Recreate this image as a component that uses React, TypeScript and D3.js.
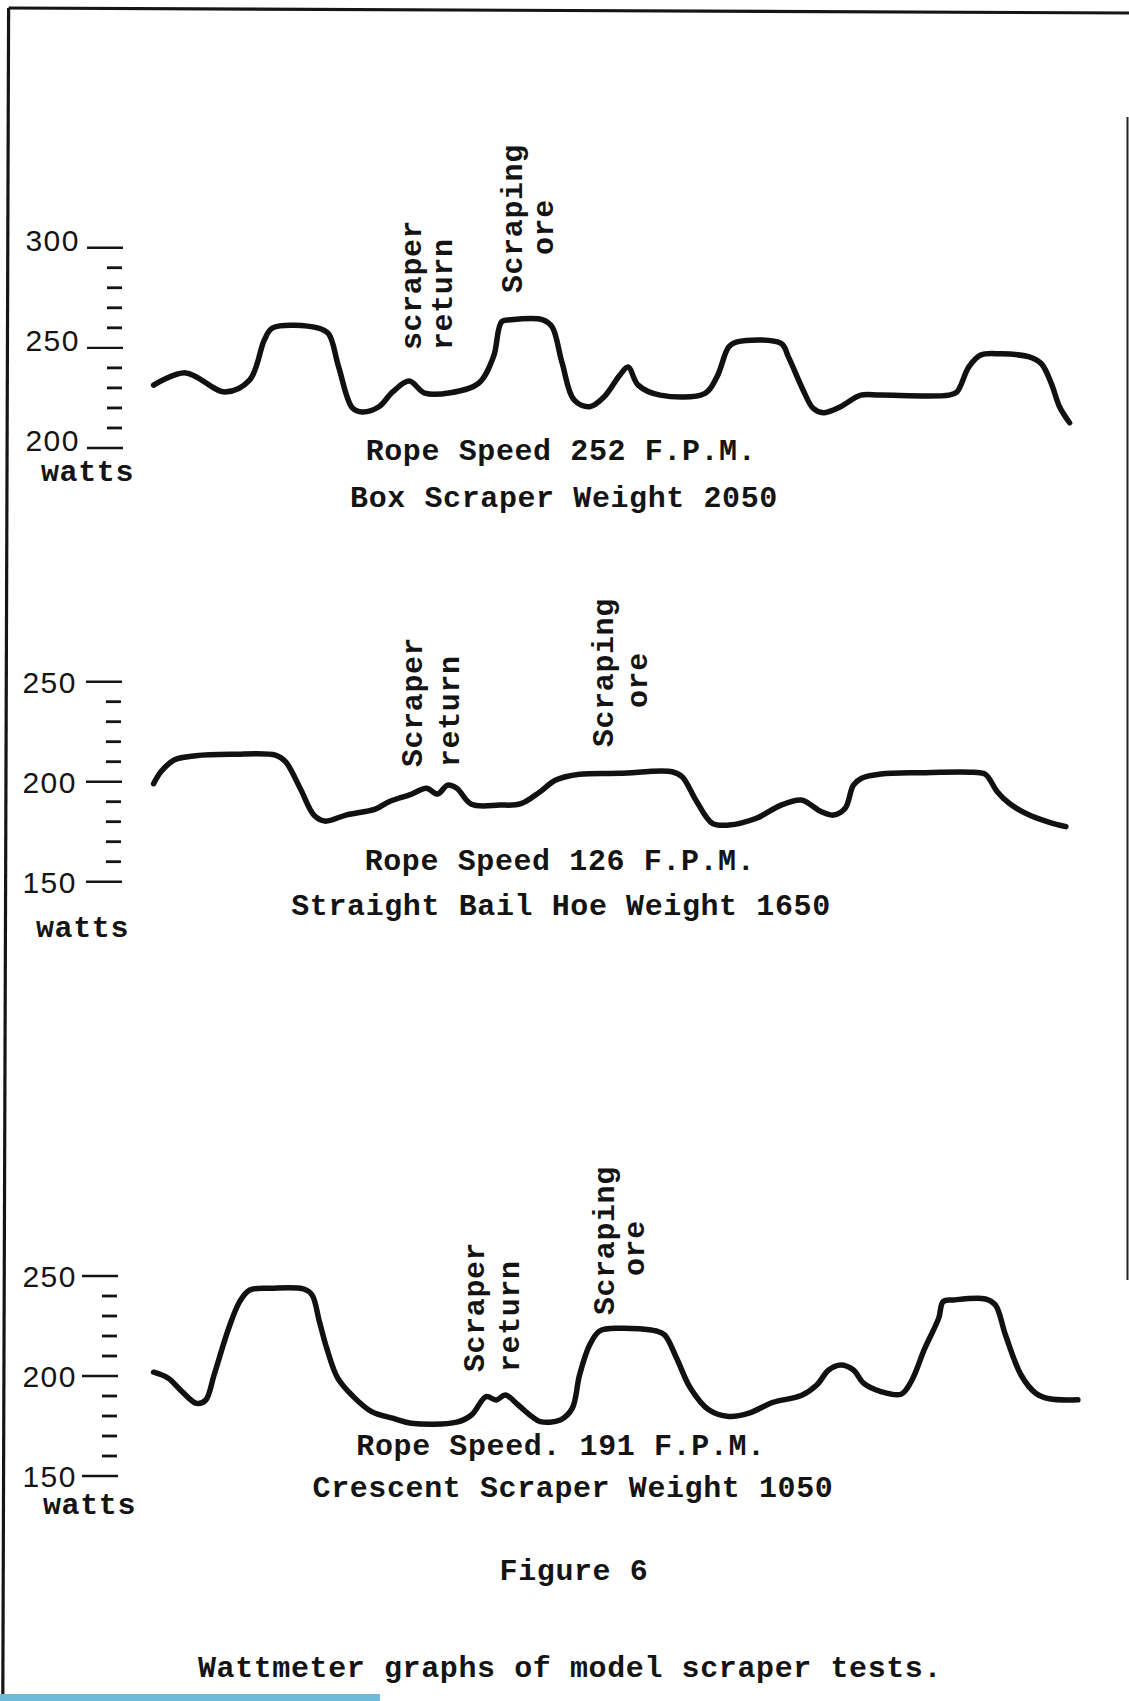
import React from "react";
import * as d3 from "d3";

const W = 1129;
const H = 1701;

// ---- Panel 1: Box Scraper, rope speed 252 F.P.M. (time in % of record, watts)
const p1Time = [0, 3.5, 7.8, 10.5, 12.1, 13.0, 17.9, 19.1, 20.2, 21.7, 22.8, 24.6, 26.1, 27.9, 29.6, 32.4, 35.5, 37.1, 38.0, 39.0, 42.5, 43.5, 44.6, 45.9, 47.6, 49.2, 50.9, 51.8, 52.9, 55.3, 60.2, 61.5, 62.8, 63.7, 68.5, 69.3, 70.9, 72.0, 73.1, 75.0, 77.2, 79.4, 86.8, 87.7, 89.0, 90.3, 92.5, 95.6, 96.9, 98.0, 98.9, 100];
const p1Watts = [231.4, 237.5, 228, 234, 254, 260, 260, 257, 240.5, 220, 218, 220.6, 228, 233.4, 227.4, 227.6, 232.4, 245.5, 263, 264, 264, 260.5, 242.4, 224, 220.6, 225.6, 236.4, 240.4, 231.4, 226.4, 227.3, 235.5, 250.5, 253, 252.2, 245.5, 229, 219.8, 217.6, 220.6, 226.4, 226.4, 226.4, 228, 240.5, 246.4, 247, 245.5, 242.2, 232.3, 220.6, 212.6];

// ---- Panel 2: Straight Bail Hoe, rope speed 126 F.P.M.
const p2Time = [0, 0.8, 2.3, 4.6, 8.6, 13.3, 14.4, 16.0, 17.5, 18.7, 21.0, 24.2, 25.7, 28.1, 29.8, 31.0, 32.1, 33.1, 34.7, 37.8, 40.1, 42.2, 43.9, 46.5, 50.9, 56.6, 57.7, 59.3, 61.0, 62.8, 65.8, 68.5, 70.7, 71.5, 72.9, 74.2, 75.5, 76.4, 77.3, 79.4, 83.8, 89.5, 90.8, 92.1, 93.4, 95.6, 97.8, 99.6];
const p2Watts = [199, 205, 211, 213, 213.7, 213.3, 210, 196.7, 183.3, 180.3, 183.3, 186.3, 190, 193.7, 196.7, 193.8, 198.3, 196.7, 188.7, 188.3, 189, 195, 200.8, 203.7, 204.2, 205, 202.5, 190, 179.2, 178.3, 181.7, 188.3, 190.8, 189.2, 185, 183.3, 186.7, 198.3, 201.7, 203.8, 204.5, 204.7, 203.7, 195, 189.2, 183.3, 179.7, 177.5];

// ---- Panel 3: Crescent Scraper, rope speed 191 F.P.M.
const p3Time = [0, 1.6, 3.1, 4.7, 5.7, 6.6, 8.2, 9.4, 10.5, 12.9, 16.4, 17.3, 18.1, 18.9, 20.1, 21.8, 23.8, 26.1, 28.1, 33.1, 34.7, 36.3, 37.4, 38.4, 39.8, 41.3, 42.2, 44.4, 45.7, 46.5, 47.6, 48.7, 50.9, 54.9, 55.8, 57.1, 58.6, 60.6, 62.8, 65.0, 67.6, 70.7, 72.4, 73.7, 75.0, 76.4, 77.5, 79.4, 81.6, 82.7, 84.2, 85.7, 86.2, 87.3, 90.8, 91.9, 93.0, 94.7, 96.3, 97.8, 100.9];
const p3Watts = [201.9, 198.9, 192.2, 186.3, 188, 200.5, 223.9, 237.2, 243, 243.9, 243.5, 240.5, 227.2, 213.9, 198.9, 189.7, 182.2, 178.9, 176.4, 176.9, 180.5, 189.7, 188, 190.5, 185.5, 179.7, 177.2, 178, 183.8, 200.5, 215.5, 222.5, 223.9, 222.5, 220.5, 208.9, 194, 183.1, 179.8, 181.4, 186.8, 190.2, 195.5, 203, 205.5, 203, 196.4, 192.2, 190.9, 197.2, 213.9, 228.8, 237.2, 238, 238.5, 235.5, 220.5, 200.5, 191.4, 188.6, 188.1];

// ---- Axis domains and text
const p1Domain = [200, 300];
const p2Domain = [150, 250];
const p3Domain = [150, 250];
const unitLabel = "watts";
const p1Titles = ["Rope Speed 252 F.P.M.", "Box Scraper Weight 2050"];
const p2Titles = ["Rope Speed 126 F.P.M.", "Straight Bail Hoe Weight 1650"];
const p3Titles = ["Rope Speed. 191 F.P.M.", "Crescent Scraper Weight 1050"];
const p1Notes = [["scraper", "return"], ["Scraping", "ore"]];
const p2Notes = [["Scraper", "return"], ["Scraping", "ore"]];
const p3Notes = [["Scraper", "return"], ["Scraping", "ore"]];
const figureLabel = "Figure 6";
const captionText = "Wattmeter graphs of model scraper tests.";

const TYPE = "'Liberation Mono', 'Courier New', monospace";
const SANS = "'Liberation Sans', Arial, sans-serif";
const INK = "#141414";

const xScale = d3.scaleLinear().domain([0, 100]).range([153.6, 1069.6]);

const panels = [
  {
    time: p1Time, watts: p1Watts, domain: p1Domain, range: [448, 247.7],
    axisX: 123, labelX: 80, labelDy: 3, unitX: 41, unitY: 481,
    titles: p1Titles, titleX: [561, 564], titleY: [460, 507],
    notes: p1Notes,
    notePos: [
      { x: [413, 444], base: [350, 350] },
      { x: [514, 545], base: [293, 255] },
    ],
  },
  {
    time: p2Time, watts: p2Watts, domain: p2Domain, range: [881.7, 681.7],
    axisX: 122, labelX: 77, labelDy: 11, unitX: 36, unitY: 937,
    titles: p2Titles, titleX: [560, 561], titleY: [870, 915],
    notes: p2Notes,
    notePos: [
      { x: [414, 451], base: [767, 767] },
      { x: [605, 639], base: [747, 708] },
    ],
  },
  {
    time: p3Time, watts: p3Watts, domain: p3Domain, range: [1476, 1276],
    axisX: 118, labelX: 77, labelDy: 11, unitX: 43, unitY: 1514,
    titles: p3Titles, titleX: [561, 573], titleY: [1455, 1497],
    notes: p3Notes,
    notePos: [
      { x: [476, 511], base: [1372, 1372] },
      { x: [606, 636], base: [1315, 1276] },
    ],
  },
];

function Panel({ p }: { p: any }) {
  const y = d3.scaleLinear().domain(p.domain).range(p.range);
  const pts = p.time.map((t: number, i: number) => [t, p.watts[i]]);
  const line = d3
    .line<number[]>()
    .x((d) => xScale(d[0]))
    .y((d) => y(d[1]))
    .curve(d3.curveCatmullRom.alpha(0.5));
  const majors = y.ticks(2);
  const minors = y.ticks(10).filter((v) => !majors.includes(v));
  return (
    <g>
      {majors.map((v) => (
        <g key={"M" + v}>
          <line x1={p.axisX - 36} x2={p.axisX} y1={y(v)} y2={y(v)} stroke={INK} strokeWidth={2.4} />
          <text x={p.labelX} y={y(v) + p.labelDy} textAnchor="end" fontFamily={SANS} fontSize={30} letterSpacing={1.5} fill={INK}>
            {v}
          </text>
        </g>
      ))}
      {minors.map((v) => (
        <line key={"m" + v} x1={p.axisX - 16} x2={p.axisX - 1} y1={y(v)} y2={y(v)} stroke={INK} strokeWidth={2.8} />
      ))}
      <text x={p.unitX} y={p.unitY} fontFamily={TYPE} fontWeight="bold" fontSize={30} letterSpacing={0.6} fill={INK}>
        {unitLabel}
      </text>
      <path d={line(pts) || ""} fill="none" stroke="#111" strokeWidth={5.5} strokeLinecap="round" strokeLinejoin="round" />
      {p.titles.map((s: string, i: number) => (
        <text key={s} x={p.titleX[i]} y={p.titleY[i]} textAnchor="middle" fontFamily={TYPE} fontWeight="bold" fontSize={30} letterSpacing={0.6} fill={INK}>
          {s}
        </text>
      ))}
      {p.notes.map((pair: string[], gi: number) =>
        pair.map((s: string, li: number) => {
          const cx = p.notePos[gi].x[li];
          const by = p.notePos[gi].base[li];
          return (
            <text
              key={gi + "-" + li}
              transform={`translate(${cx},${by}) rotate(-90)`}
              textAnchor="start"
              dominantBaseline="central"
              fontFamily={TYPE}
              fontWeight="bold"
              fontSize={30}
              letterSpacing={0.6}
              fill={INK}
            >
              {s}
            </text>
          );
        })
      )}
    </g>
  );
}

export default function App() {
  return (
    <div style={{ position: "absolute", left: 0, top: 0, width: W, height: H, overflow: "hidden", background: "#fff" }}>
      <svg width={W} height={H} viewBox={`0 0 ${W} ${H}`} style={{ display: "block" }}>
        <rect x={0} y={0} width={W} height={H} fill="#fff" />
        {/* page frame */}
        <line x1={8.6} y1={8} x2={1129} y2={13} stroke="#151515" strokeWidth={3.2} />
        <line x1={8.6} y1={8} x2={2.8} y2={1701} stroke="#151515" strokeWidth={3.2} />
        <line x1={1127.5} y1={117} x2={1127.5} y2={1280} stroke="#222" strokeWidth={2} />
        {panels.map((p, i) => (
          <Panel key={i} p={p} />
        ))}
        <text x={574} y={1580} textAnchor="middle" fontFamily={TYPE} fontWeight="bold" fontSize={30} letterSpacing={0.6} fill={INK}>
          {figureLabel}
        </text>
        <text x={570} y={1677} textAnchor="middle" fontFamily={TYPE} fontWeight="bold" fontSize={30} letterSpacing={0.6} fill={INK}>
          {captionText}
        </text>
        <rect x={0} y={1694} width={380} height={7} fill="#6fbad8" />
      </svg>
    </div>
  );
}
